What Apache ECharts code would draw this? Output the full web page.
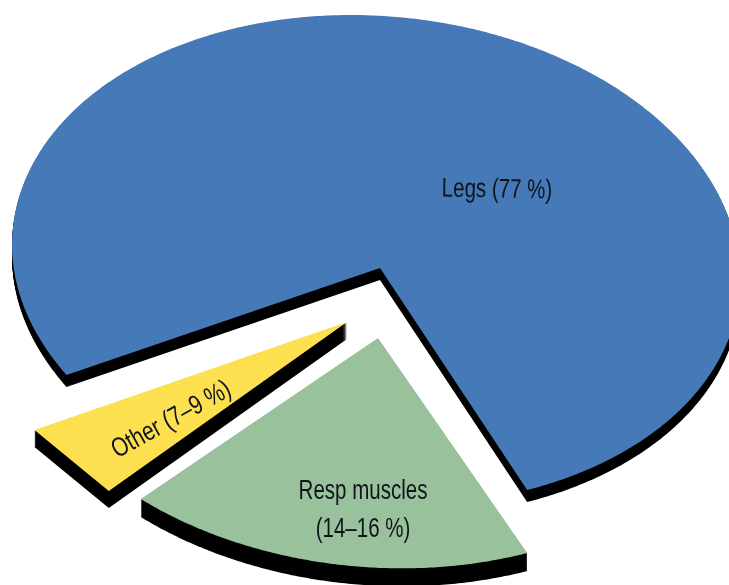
<!DOCTYPE html>
<html>
<head>
<meta charset="utf-8">
<style>html,body{margin:0;padding:0;background:#fff}#c{width:729px;height:585px;overflow:hidden;filter:blur(0.5px)}</style>
<script src="https://cdn.jsdelivr.net/npm/echarts@6/dist/echarts.min.js"></script>
</head>
<body>
<div id="c"></div>
<script>
// Data: slice shares as actually drawn in the picture; labels carry the printed ranges
var categories = ['Resp muscles', 'Other', 'Legs'];
var drawnShares = [18, 5, 77];
var labelLines = [['Resp muscles', '(14\u201316 %)'], ['Other (7\u20139 %)'], ['Legs (77 %)']];

// Layout and style (not data)
var ellipse = { cx: 376, cy: 262, a: 364.7, b: 245.9, lowerScale: 0.985, tilt: 4.9 * Math.PI / 180 };
var startAngle = 62.2;
var looks = [
  { color: '#99c19b', dx: 0, dy: 63, apexDx: 2, apexDy: 13, depth: 18, labelX: 363, labelY: [492, 530], rot: 0, fontScale: 0.76 },
  { color: '#fde050', dx: -32, dy: 55, apexDx: 3, apexDy: 5, depth: 17, labelX: 171.5, labelY: [420], rot: 29, fontScale: 0.78, straight: true },
  { color: '#4579b8', dx: 0, dy: 0, apexDx: 4, apexDy: 6, depth: 12, labelX: 497, labelY: [190], rot: -1, fontScale: 0.76 }
];
var total = drawnShares.reduce(function (s, v) { return s + v; }, 0);

function pointAt(deg, ox, oy) {
  var t = deg * Math.PI / 180;
  var x = ellipse.a * Math.cos(t), y = ellipse.b * Math.sin(t);
  if (y > 0) y *= ellipse.lowerScale;
  var c = Math.cos(ellipse.tilt), s = Math.sin(ellipse.tilt);
  return [ellipse.cx + ox + x * c - y * s, ellipse.cy + oy + x * s + y * c];
}

function renderSlice(params, api) {
  var i = params.dataIndex;
  var look = looks[i];
  var before = 0;
  for (var k = 0; k < i; k++) before += drawnShares[k];
  var from = startAngle + before / total * 360;
  var sweep = api.value(0) / total * 360;
  var pts = [[ellipse.cx + look.dx + look.apexDx, ellipse.cy + look.dy + look.apexDy]];
  var steps = look.straight ? 1 : Math.ceil(sweep * 2);
  for (var n = 0; n <= steps; n++) pts.push(pointAt(from + sweep * n / steps, look.dx, look.dy));
  var children = [];
  for (var d = look.depth; d >= 1; d--) {
    children.push({
      type: 'polygon',
      shape: { points: pts.map(function (p) { return [p[0], p[1] + d]; }) },
      style: { fill: '#000' }
    });
  }
  children.push({ type: 'polygon', shape: { points: pts }, style: { fill: look.color } });
  labelLines[i].forEach(function (line, li) {
    children.push({
      type: 'text',
      x: look.labelX,
      y: look.labelY[li],
      rotation: look.rot * Math.PI / 180,
      scaleX: look.fontScale,
      style: {
        text: line,
        fill: '#10141c',
        font: '27px "Liberation Sans", Arial, sans-serif',
        align: 'center',
        verticalAlign: 'middle'
      }
    });
  });
  return { type: 'group', children: children };
}

var chart = echarts.init(document.getElementById('c'), null, { renderer: 'canvas' });
chart.setOption({
  animation: false,
  backgroundColor: '#fff',
  series: [{
    type: 'custom',
    coordinateSystem: 'none',
    silent: true,
    renderItem: renderSlice,
    data: categories.map(function (name, i) { return { name: name, value: [drawnShares[i]] }; })
  }]
});
</script>
</body>
</html>
